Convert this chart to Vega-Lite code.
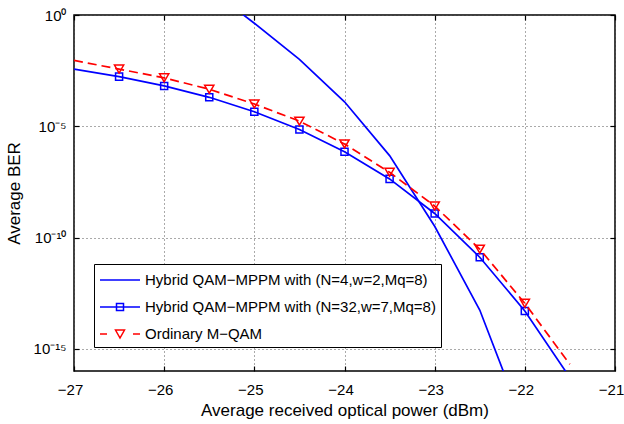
{
  "$schema": "https://vega.github.io/schema/vega-lite/v6.json",
  "width": 541,
  "height": 356,
  "autosize": {"type": "none"},
  "padding": {"left": 74, "top": 15, "right": 9, "bottom": 53},
  "background": "white",
  "config": {
    "view": {"stroke": "black", "strokeWidth": 1.5},
    "font": "Liberation Sans",
    "axis": {
      "labelFont": "Liberation Sans",
      "titleFont": "Liberation Sans",
      "labelFontSize": 15,
      "titleFontSize": 17,
      "titleFontWeight": "normal",
      "labelColor": "black",
      "titleColor": "black",
      "tickColor": "black",
      "tickWidth": 1.2,
      "domain": false,
      "gridColor": "#555555",
      "gridDash": [1, 3],
      "gridWidth": 1,
      "labelFlush": false
    },
    "legend": {
      "orient": "none",
      "strokeColor": "black",
      "fillColor": "white",
      "padding": 5,
      "labelFont": "Liberation Sans",
      "labelFontSize": 15,
      "labelColor": "black",
      "labelLimit": 0,
      "labelOffset": 24,
      "rowPadding": 8,
      "symbolSize": 400,
      "symbolStrokeWidth": 1.5,
      "symbolOpacity": 1,
      "symbolFillColor": "transparent"
    }
  },
  "data": {
    "values": [
      {"series": "Hybrid QAM−MPPM with (N=4,w=2,Mq=8)", "power": -25.5, "ber": 15},
      {"series": "Hybrid QAM−MPPM with (N=4,w=2,Mq=8)", "power": -25, "ber": 0.427},
      {"series": "Hybrid QAM−MPPM with (N=4,w=2,Mq=8)", "power": -24.5, "ber": 0.0102},
      {"series": "Hybrid QAM−MPPM with (N=4,w=2,Mq=8)", "power": -24, "ber": 1.26e-4},
      {"series": "Hybrid QAM−MPPM with (N=4,w=2,Mq=8)", "power": -23.5, "ber": 4.8e-7},
      {"series": "Hybrid QAM−MPPM with (N=4,w=2,Mq=8)", "power": -23, "ber": 3.2e-10},
      {"series": "Hybrid QAM−MPPM with (N=4,w=2,Mq=8)", "power": -22.5, "ber": 5.5e-14},
      {"series": "Hybrid QAM−MPPM with (N=4,w=2,Mq=8)", "power": -22, "ber": 3e-19},
      {"series": "Hybrid QAM−MPPM with (N=32,w=7,Mq=8)", "power": -27, "ber": 3.7e-3},
      {"series": "Hybrid QAM−MPPM with (N=32,w=7,Mq=8)", "power": -26.5, "ber": 1.7e-3},
      {"series": "Hybrid QAM−MPPM with (N=32,w=7,Mq=8)", "power": -26, "ber": 6.5e-4},
      {"series": "Hybrid QAM−MPPM with (N=32,w=7,Mq=8)", "power": -25.5, "ber": 2.0e-4},
      {"series": "Hybrid QAM−MPPM with (N=32,w=7,Mq=8)", "power": -25, "ber": 4.5e-5},
      {"series": "Hybrid QAM−MPPM with (N=32,w=7,Mq=8)", "power": -24.5, "ber": 7.2e-6},
      {"series": "Hybrid QAM−MPPM with (N=32,w=7,Mq=8)", "power": -24, "ber": 7.2e-7},
      {"series": "Hybrid QAM−MPPM with (N=32,w=7,Mq=8)", "power": -23.5, "ber": 4.3e-8},
      {"series": "Hybrid QAM−MPPM with (N=32,w=7,Mq=8)", "power": -23, "ber": 1.2e-9},
      {"series": "Hybrid QAM−MPPM with (N=32,w=7,Mq=8)", "power": -22.5, "ber": 1.3e-11},
      {"series": "Hybrid QAM−MPPM with (N=32,w=7,Mq=8)", "power": -22, "ber": 5.0e-14},
      {"series": "Hybrid QAM−MPPM with (N=32,w=7,Mq=8)", "power": -21.5, "ber": 5e-17},
      {"series": "Ordinary M−QAM", "power": -27, "ber": 9.1e-3},
      {"series": "Ordinary M−QAM", "power": -26.5, "ber": 3.7e-3},
      {"series": "Ordinary M−QAM", "power": -26, "ber": 1.5e-3},
      {"series": "Ordinary M−QAM", "power": -25.5, "ber": 4.6e-4},
      {"series": "Ordinary M−QAM", "power": -25, "ber": 1.0e-4},
      {"series": "Ordinary M−QAM", "power": -24.5, "ber": 1.7e-5},
      {"series": "Ordinary M−QAM", "power": -24, "ber": 1.6e-6},
      {"series": "Ordinary M−QAM", "power": -23.5, "ber": 8.5e-8},
      {"series": "Ordinary M−QAM", "power": -23, "ber": 2.6e-9},
      {"series": "Ordinary M−QAM", "power": -22.5, "ber": 3.0e-11},
      {"series": "Ordinary M−QAM", "power": -22, "ber": 1.1e-13},
      {"series": "Ordinary M−QAM", "power": -21.5, "ber": 2e-16}
    ]
  },
  "layer": [
    {
      "transform": [{"filter": "indexof(datum.series, 'N=4') >= 0"}],
      "mark": {"type": "line", "clip": true, "color": "#0000ff", "strokeWidth": 1.7},
      "encoding": {
        "x": {
          "field": "power", "type": "quantitative",
          "scale": {"domain": [-27, -21], "nice": false, "zero": false},
          "axis": {
            "orient": "bottom",
            "values": [-27, -26, -25, -24, -23, -22, -21],
            "format": "d",
            "title": "Average received optical power (dBm)",
            "grid": true,
            "tickSize": -5,
            "labelPadding": 16,
            "labelOffset": -4,
            "titlePadding": 5
          }
        },
        "y": {
          "field": "ber", "type": "quantitative",
          "scale": {"type": "log", "domain": [1e-16, 1], "nice": false},
          "axis": {
            "orient": "left",
            "values": [1, 1e-5, 1e-10, 1e-15],
            "labelExpr": "datum.value > 0.1 ? '10⁰' : datum.value > 1e-7 ? '10⁻⁵' : datum.value > 1e-12 ? '10⁻¹⁰' : '10⁻¹⁵'",
            "title": "Average BER",
            "grid": true,
            "tickSize": -5,
            "labelPadding": 13,
            "titlePadding": 10
          }
        }
      }
    },
    {
      "transform": [{"filter": "indexof(datum.series, 'N=32') >= 0"}],
      "mark": {"type": "line", "clip": true, "color": "#0000ff", "strokeWidth": 1.7},
      "encoding": {
        "x": {"field": "power", "type": "quantitative", "axis": null},
        "y": {"field": "ber", "type": "quantitative", "axis": null}
      }
    },
    {
      "transform": [{"filter": "indexof(datum.series, 'N=32') >= 0 && datum.power >= -26.5 && datum.power <= -22"}],
      "mark": {"type": "point", "clip": true, "shape": "square", "size": 50, "filled": false, "color": "#0000ff", "strokeWidth": 1.5, "opacity": 1},
      "encoding": {
        "x": {"field": "power", "type": "quantitative", "axis": null},
        "y": {"field": "ber", "type": "quantitative", "axis": null}
      }
    },
    {
      "transform": [{"filter": "indexof(datum.series, 'Ordinary') >= 0"}],
      "mark": {"type": "line", "clip": true, "color": "#ff0000", "strokeWidth": 1.7, "strokeDash": [9, 5]},
      "encoding": {
        "x": {"field": "power", "type": "quantitative", "axis": null},
        "y": {"field": "ber", "type": "quantitative", "axis": null}
      }
    },
    {
      "transform": [{"filter": "indexof(datum.series, 'Ordinary') >= 0 && datum.power >= -26.5 && datum.power <= -22"}],
      "mark": {"type": "point", "clip": true, "shape": "triangle-down", "size": 85, "filled": false, "color": "#ff0000", "strokeWidth": 1.5, "opacity": 1},
      "encoding": {
        "x": {"field": "power", "type": "quantitative", "axis": null},
        "y": {"field": "ber", "type": "quantitative", "axis": null}
      }
    },
    {
      "mark": {"type": "point", "opacity": 0, "filled": false},
      "encoding": {
        "x": {
          "field": "power", "type": "quantitative",
          "axis": {"orient": "top", "values": [-27, -26, -25, -24, -23, -22, -21], "labels": false, "title": null, "grid": false, "tickSize": -5}
        },
        "y": {
          "field": "ber", "type": "quantitative",
          "axis": {"orient": "right", "values": [1, 1e-5, 1e-10, 1e-15], "labels": false, "title": null, "grid": false, "tickSize": -5}
        },
        "stroke": {
          "field": "series", "type": "nominal",
          "scale": {
            "domain": ["Hybrid QAM−MPPM with (N=4,w=2,Mq=8)", "Hybrid QAM−MPPM with (N=32,w=7,Mq=8)", "Ordinary M−QAM"],
            "range": ["#0000ff", "#0000ff", "#ff0000"]
          },
          "legend": {"title": null, "legendX": 20, "legendY": 249}
        },
        "shape": {
          "field": "series", "type": "nominal",
          "scale": {
            "domain": ["Hybrid QAM−MPPM with (N=4,w=2,Mq=8)", "Hybrid QAM−MPPM with (N=32,w=7,Mq=8)", "Ordinary M−QAM"],
            "range": ["M-1,0H3", "M-1,0H3M0.65,-0.35H1.35V0.35H0.65Z", "M-1,0H-0.3M2.3,0H3M0.55,-0.4H1.45L1,0.4Z"]
          },
          "legend": {"title": null, "legendX": 20, "legendY": 249}
        }
      }
    }
  ],
  "resolve": {"axis": {"x": "independent", "y": "independent"}}
}
